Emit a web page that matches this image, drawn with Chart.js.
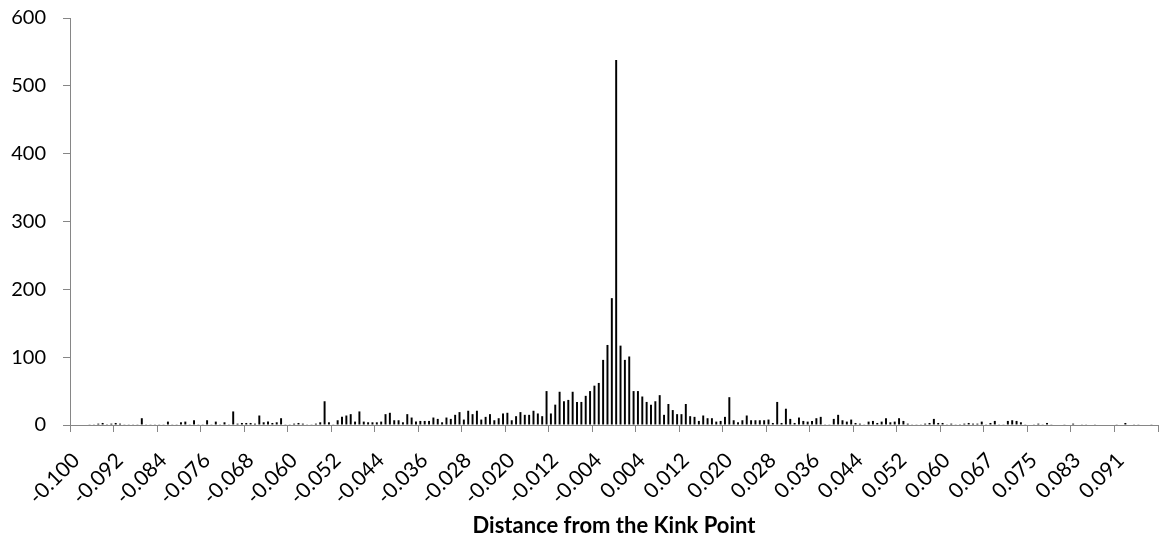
<!DOCTYPE html>
<html><head><meta charset="utf-8">
<script src="https://cdn.jsdelivr.net/npm/chart.js@4.4.0/dist/chart.umd.min.js"></script>
<style>html,body{margin:0;padding:0;background:#fff}#wrap{width:1160px;height:539px;position:relative}</style>
</head><body><div id="wrap"><canvas id="c" width="1160" height="539"></canvas></div>
<script>
// Tick labels shown every 10th bin
const tickLabels = ['-0.100','-0.092','-0.084','-0.076','-0.068','-0.060','-0.052','-0.044','-0.036','-0.028','-0.020','-0.012','-0.004','0.004','0.012','0.020','0.028','0.036','0.044','0.052','0.060','0.067','0.075','0.083','0.091'];
const binsPerLabel = 10;
// Histogram counts (250 bins), 10 bins per row
const counts = [
  0,0,0,0,1,1,2,3,1,2,
  3,2,1,1,1,1,10,1,1,1,
  1,1,5,1,1,4,5,1,7,1,
  1,7,1,5,1,4,1,20,2,3,
  3,3,2,14,4,5,3,4,10,1,
  1,2,3,2,1,1,2,4,35,4,
  1,7,12,14,16,5,20,5,4,4,
  4,5,16,18,7,7,4,16,11,5,
  6,6,6,11,9,4,11,9,15,19,
  8,21,16,21,8,12,16,7,10,17,
  18,7,13,19,15,15,21,17,13,50,
  17,30,49,35,37,49,34,34,43,50,
  58,62,96,118,187,538,117,96,101,50,
  50,42,34,30,35,44,15,31,22,16,
  16,31,13,12,6,14,10,10,5,6,
  12,41,7,4,7,14,7,7,7,7,
  8,3,34,3,24,9,3,11,6,5,
  6,10,12,1,1,9,15,7,5,8,
  3,2,1,5,6,3,5,10,4,5,
  10,6,2,1,1,1,2,3,9,3,
  3,1,2,1,1,2,3,2,2,5,
  1,3,6,1,1,6,7,6,4,1,
  0,1,2,1,3,1,0,0,1,0,
  2,0,1,1,0,1,0,0,0,0,
  1,0,3,0,1,1,0,0,1,0
];
const categories = counts.map((_, i) => i);
const yTicks = {min: 0, max: 600, step: 100};
const axisTitle = 'Distance from the Kink Point';

const axisGray = '#868686';
new Chart(document.getElementById('c').getContext('2d'), {
  type: 'bar',
  data: {
    labels: categories,
    datasets: [{
      data: counts,
      backgroundColor: '#000',
      borderWidth: 0,
      barPercentage: 0.45,
      categoryPercentage: 1
    }]
  },
  options: {
    responsive: false,
    animation: false,
    devicePixelRatio: 1,
    layout: {padding: {top: 18, right: 2, left: 0, bottom: 0}},
    plugins: {legend: {display: false}, tooltip: {enabled: false}},
    scales: {
      x: {
        offset: true,
        grid: {
          offset: true,
          drawOnChartArea: false,
          drawTicks: true,
          tickLength: 7,
          lineWidth: 1,
          color: c => (c.index === undefined || c.type === 'scale' || c.index % binsPerLabel === 0) ? axisGray : 'rgba(0,0,0,0)'
        },
        border: {color: axisGray, width: 1},
        ticks: {
          autoSkip: false,
          maxRotation: 45,
          minRotation: 45,
          padding: 16,
          labelOffset: 4,
          color: '#000',
          font: {family: 'Lato', size: 21},
          callback: (v, i) => (i % binsPerLabel === 0) ? tickLabels[i / binsPerLabel] : ''
        },
        title: {
          display: true,
          text: axisTitle,
          color: '#000',
          font: {family: 'Lato', size: 22, weight: 'bold'},
          padding: {top: 2, bottom: 0}
        },
        afterFit: s => { s.height = 539 - 425; s.paddingLeft = 0; s.paddingRight = 0; }
      },
      y: {
        min: yTicks.min,
        max: yTicks.max,
        ticks: {stepSize: yTicks.step, padding: 17, color: '#000', font: {family: 'Lato', size: 20}},
        grid: {drawOnChartArea: false, tickLength: 7, color: axisGray},
        border: {color: axisGray, width: 1},
        afterFit: s => { s.width = 70; s.paddingTop = 0; s.paddingBottom = 0; }
      }
    }
  }
});
</script>
</body></html>
